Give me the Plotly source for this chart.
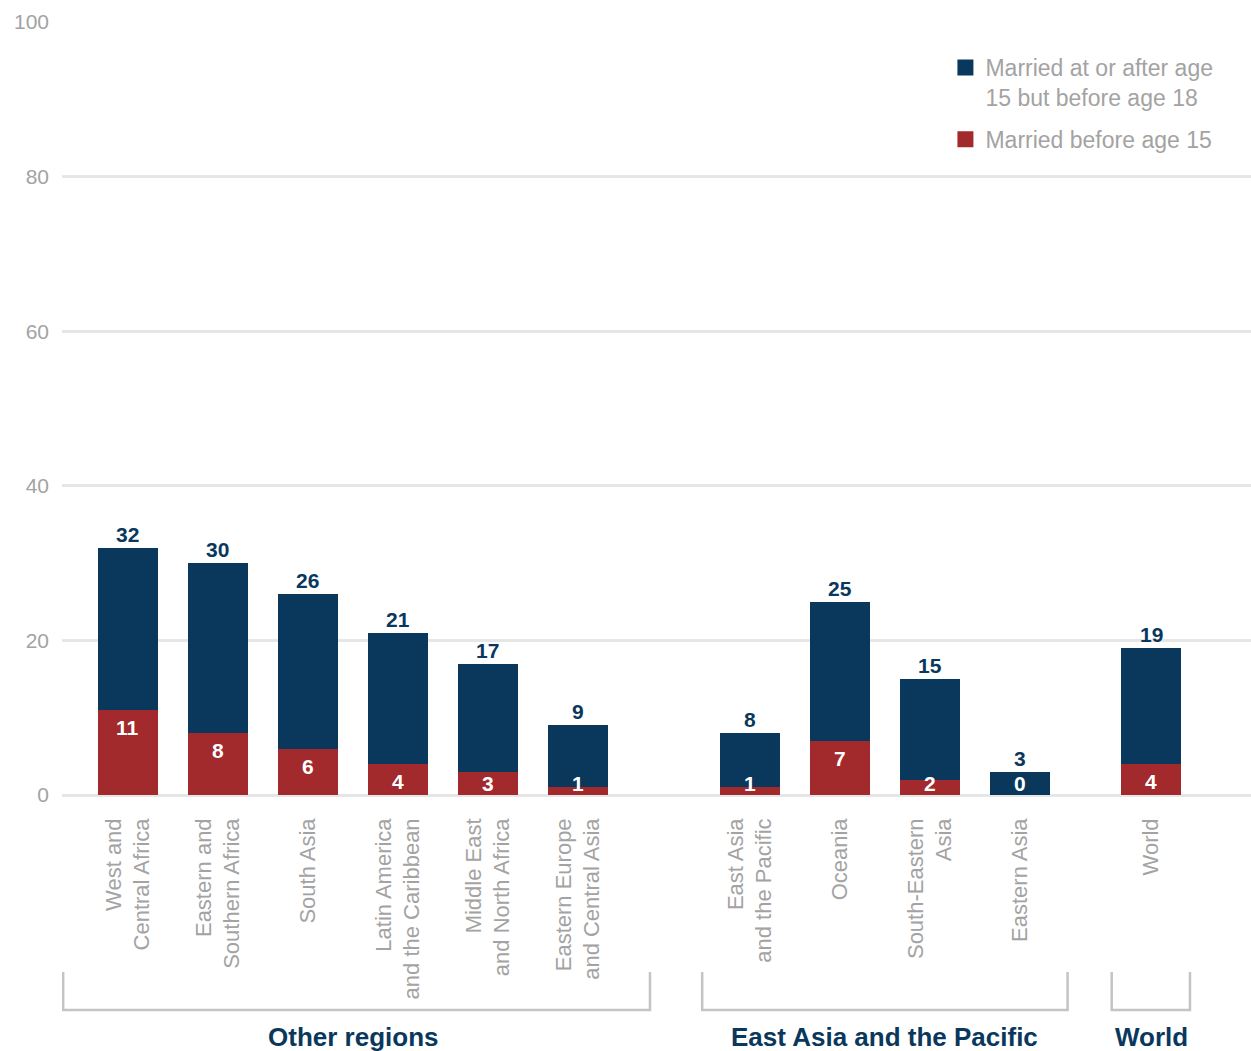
import plotly.graph_objects as go

# Child marriage by region: share of women married before age 18 (%)
categories = [
    "West and<br>Central Africa",
    "Eastern and<br>Southern Africa",
    "South Asia",
    "Latin America<br>and the Caribbean",
    "Middle East<br>and North Africa",
    "Eastern Europe<br>and Central Asia",
    "East Asia<br>and the Pacific",
    "Oceania",
    "South-Eastern<br>Asia",
    "Eastern Asia",
    "World",
]
groups = ["Other regions"] * 6 + ["East Asia and the Pacific"] * 4 + ["World"]
married_before_15 = [11, 8, 6, 4, 3, 1, 1, 7, 2, 0, 4]
married_before_18 = [32, 30, 26, 21, 17, 9, 8, 25, 15, 3, 19]
married_15_to_18 = [t - b for t, b in zip(married_before_18, married_before_15)]
y_ticks = [0, 20, 40, 60, 80, 100]

NAVY = "#0a385d"
RED = "#a2292c"
GREY_TEXT = "#a3a3a3"
GRID = "#e6e6e6"
BRACKET = "#c4c4c4"
FONT = "Liberation Sans"

# slot positions: one unit per bar, with wider gaps between groups
group_gap = {"East Asia and the Pacific": 1.91, "World": 1.46}
x_pos = []
cur = 0.0
for i, g in enumerate(groups):
    if i > 0:
        cur += group_gap[g] if g != groups[i - 1] else 1.0
    x_pos.append(cur)

fig = go.Figure()
fig.add_trace(go.Bar(
    x=x_pos, y=married_before_15, marker_color=RED, marker_line_width=0,
    width=0.667, showlegend=False, hoverinfo="skip",
))
fig.add_trace(go.Bar(
    x=x_pos, y=married_15_to_18, marker_color=NAVY, marker_line_width=0,
    width=0.667, showlegend=False, hoverinfo="skip",
))

# legend entries with larger square swatches
fig.add_trace(go.Scatter(
    x=[None], y=[None], mode="markers",
    name="Married at or after age<br>15 but before age 18",
    legendgroup="b18", marker=dict(symbol="square", size=18, color=NAVY),
))
fig.add_trace(go.Scatter(
    x=[None], y=[None], mode="markers", name="Married before age 15",
    legendgroup="b15", marker=dict(symbol="square", size=18, color=RED),
))

annotations = []
for x, tot, b in zip(x_pos, married_before_18, married_before_15):
    annotations.append(dict(
        x=x, y=tot, xref="x", yref="y", text=f"<b>{tot}</b>", showarrow=False,
        yanchor="bottom", yshift=0, font=dict(family=FONT, size=21, color=NAVY),
    ))
    annotations.append(dict(
        x=x, y=max(b - 2.3, 1.55), xref="x", yref="y", text=f"<b>{b}</b>",
        showarrow=False, yanchor="middle",
        font=dict(family=FONT, size=21, color="white"),
    ))

# group brackets and group titles below the category labels
shapes = []
group_pad = {
    "Other regions": (0.72, 0.80),
    "East Asia and the Pacific": (0.53, 0.53),
    "World": (0.44, 0.43),
}
for g in dict.fromkeys(groups):
    xs = [x for x, gg in zip(x_pos, groups) if gg == g]
    x0 = xs[0] - group_pad[g][0]
    x1 = xs[-1] + group_pad[g][1]
    y_top, y_bot = -0.229, -0.278
    shapes.append(dict(
        type="path", xref="x", yref="paper",
        path=f"M {x0},{y_top} L {x0},{y_bot} L {x1},{y_bot} L {x1},{y_top}",
        line=dict(color=BRACKET, width=2.5),
    ))
    annotations.append(dict(
        x=(xs[0] + xs[-1]) / 2, y=-0.313, xref="x", yref="paper",
        text=f"<b>{g}</b>", showarrow=False, yanchor="middle",
        font=dict(family=FONT, size=26, color=NAVY),
    ))

fig.update_layout(
    width=1251, height=1051,
    margin=dict(l=62, r=0, t=22, b=256),
    plot_bgcolor="white", paper_bgcolor="white",
    barmode="stack", bargap=0,
    font=dict(family=FONT, color=GREY_TEXT),
    xaxis=dict(
        range=[-0.733, 12.478], tickvals=x_pos, ticktext=categories,
        tickangle=-90, showgrid=False, zeroline=False, showline=False,
        ticks="", ticklabelstandoff=18,
        tickfont=dict(family=FONT, size=22, color=GREY_TEXT),
    ),
    yaxis=dict(
        range=[0, 100], tickvals=y_ticks, showgrid=True, gridcolor=GRID,
        gridwidth=2.5, zeroline=True, zerolinecolor=GRID, zerolinewidth=2.5,
        ticks="", ticklabelstandoff=12,
        tickfont=dict(family=FONT, size=21, color=GREY_TEXT),
    ),
    legend=dict(
        x=0.743, y=0.969, xanchor="left", yanchor="top",
        traceorder="grouped", tracegroupgap=9, valign="top",
        bgcolor="rgba(0,0,0,0)",
        font=dict(family=FONT, size=23, color=GREY_TEXT),
    ),
    annotations=annotations,
    shapes=shapes,
)

fig.write_html("out.html")
